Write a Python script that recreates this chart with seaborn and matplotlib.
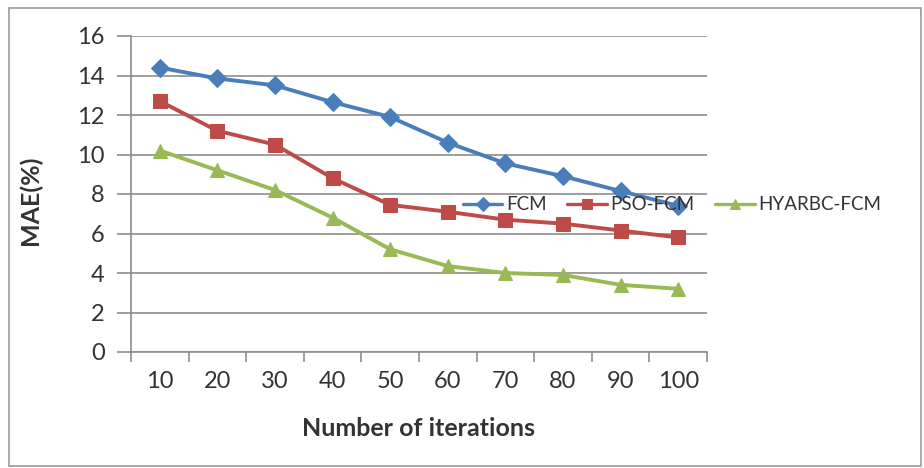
import matplotlib
matplotlib.use("Agg")
import matplotlib.pyplot as plt
from matplotlib.patches import Rectangle
from matplotlib.ticker import FixedLocator
import numpy as np
import pandas as pd
import seaborn as sns

iterations = [10, 20, 30, 40, 50, 60, 70, 80, 90, 100]
fcm = [14.4, 13.85, 13.5, 12.65, 11.9, 10.6, 9.55, 8.9, 8.15, 7.4]
pso_fcm = [12.7, 11.2, 10.5, 8.8, 7.45, 7.1, 6.7, 6.5, 6.15, 5.8]
hyarbc_fcm = [10.2, 9.2, 8.2, 6.8, 5.2, 4.35, 4.0, 3.9, 3.4, 3.2]
series_names = ["FCM", "PSO-FCM", "HYARBC-FCM"]
y_ticks = [0, 2, 4, 6, 8, 10, 12, 14, 16]

df = pd.DataFrame({
    "iterations": iterations * 3,
    "MAE": fcm + pso_fcm + hyarbc_fcm,
    "method": [series_names[0]] * 10 + [series_names[1]] * 10 + [series_names[2]] * 10,
})

sns.set_theme(style="white")
plt.rcParams["font.family"] = ["Lato", "DejaVu Sans"]

palette = {"FCM": "#4a7ebb", "PSO-FCM": "#be4b48", "HYARBC-FCM": "#98b954"}
markers = {"FCM": "D", "PSO-FCM": "s", "HYARBC-FCM": "^"}
sizes = {"FCM": 9, "PSO-FCM": 10.5, "HYARBC-FCM": 10}

fig = plt.figure(figsize=(9.24, 4.68), dpi=100)
fig.patch.set_facecolor("white")
fig.patches.append(Rectangle((9 / 924, 1 - 466 / 468), 912 / 924, 458 / 468,
                             transform=fig.transFigure, fill=False,
                             edgecolor="#9a9a9a", linewidth=1.2))

ax = fig.add_axes([131 / 924, 1 - 352 / 468, 576 / 924, 316 / 468])

grid_color = "#8c8c8c"
text_color = "#333333"
ax.set_ylim(0, 16)
ax.set_xlim(5, 105)
ax.set_yticks(y_ticks)
ax.yaxis.grid(True, color=grid_color, linewidth=1.2)
ax.set_axisbelow(True)

for name in series_names:
    sub = df[df["method"] == name]
    sns.lineplot(data=sub, x="iterations", y="MAE", ax=ax, color=palette[name],
                 marker=markers[name], markersize=sizes[name], linewidth=2.8,
                 markeredgecolor=palette[name], label=name, sort=False)

for side in ["top", "right"]:
    ax.spines[side].set_visible(False)
for side in ["left", "bottom"]:
    ax.spines[side].set_color(grid_color)
    ax.spines[side].set_linewidth(1.2)

ax.set_xticks(iterations)
ax.xaxis.set_minor_locator(FixedLocator(np.arange(5, 106, 10)))
ax.tick_params(axis="x", which="major", length=0, pad=14, labelsize=17, labelcolor=text_color)
ax.tick_params(axis="x", which="minor", length=7, width=1.2, color=grid_color, direction="out", bottom=True)
ax.tick_params(axis="y", which="major", length=10, width=1.2, color=grid_color, left=True,
               pad=9, labelsize=17, labelcolor=text_color)

ax.set_xlabel("Number of iterations", fontsize=18, fontweight="bold", color=text_color)
ax.xaxis.set_label_coords(0.5, (352 - 428) / 316, transform=ax.transAxes)
ax.set_ylabel("MAE(%)", fontsize=18, fontweight="bold", color=text_color)
ax.yaxis.set_label_coords((30 - 131) / 576, (352 - 200) / 316, transform=ax.transAxes)
ax.xaxis.label.set_va("center")
ax.yaxis.label.set_va("center")

leg = ax.legend(ncol=3, loc="center left", bbox_to_anchor=(463 / 924, 1 - 205 / 468),
                bbox_transform=fig.transFigure, frameon=False, fontsize=13.5,
                handlelength=2.1, handletextpad=0.2, columnspacing=1.1, markerscale=0.75,
                labelcolor=text_color, borderaxespad=0, borderpad=0)
for line in leg.get_lines():
    line.set_linewidth(2.4)

fig.savefig("out.png", dpi=100, facecolor="white")
